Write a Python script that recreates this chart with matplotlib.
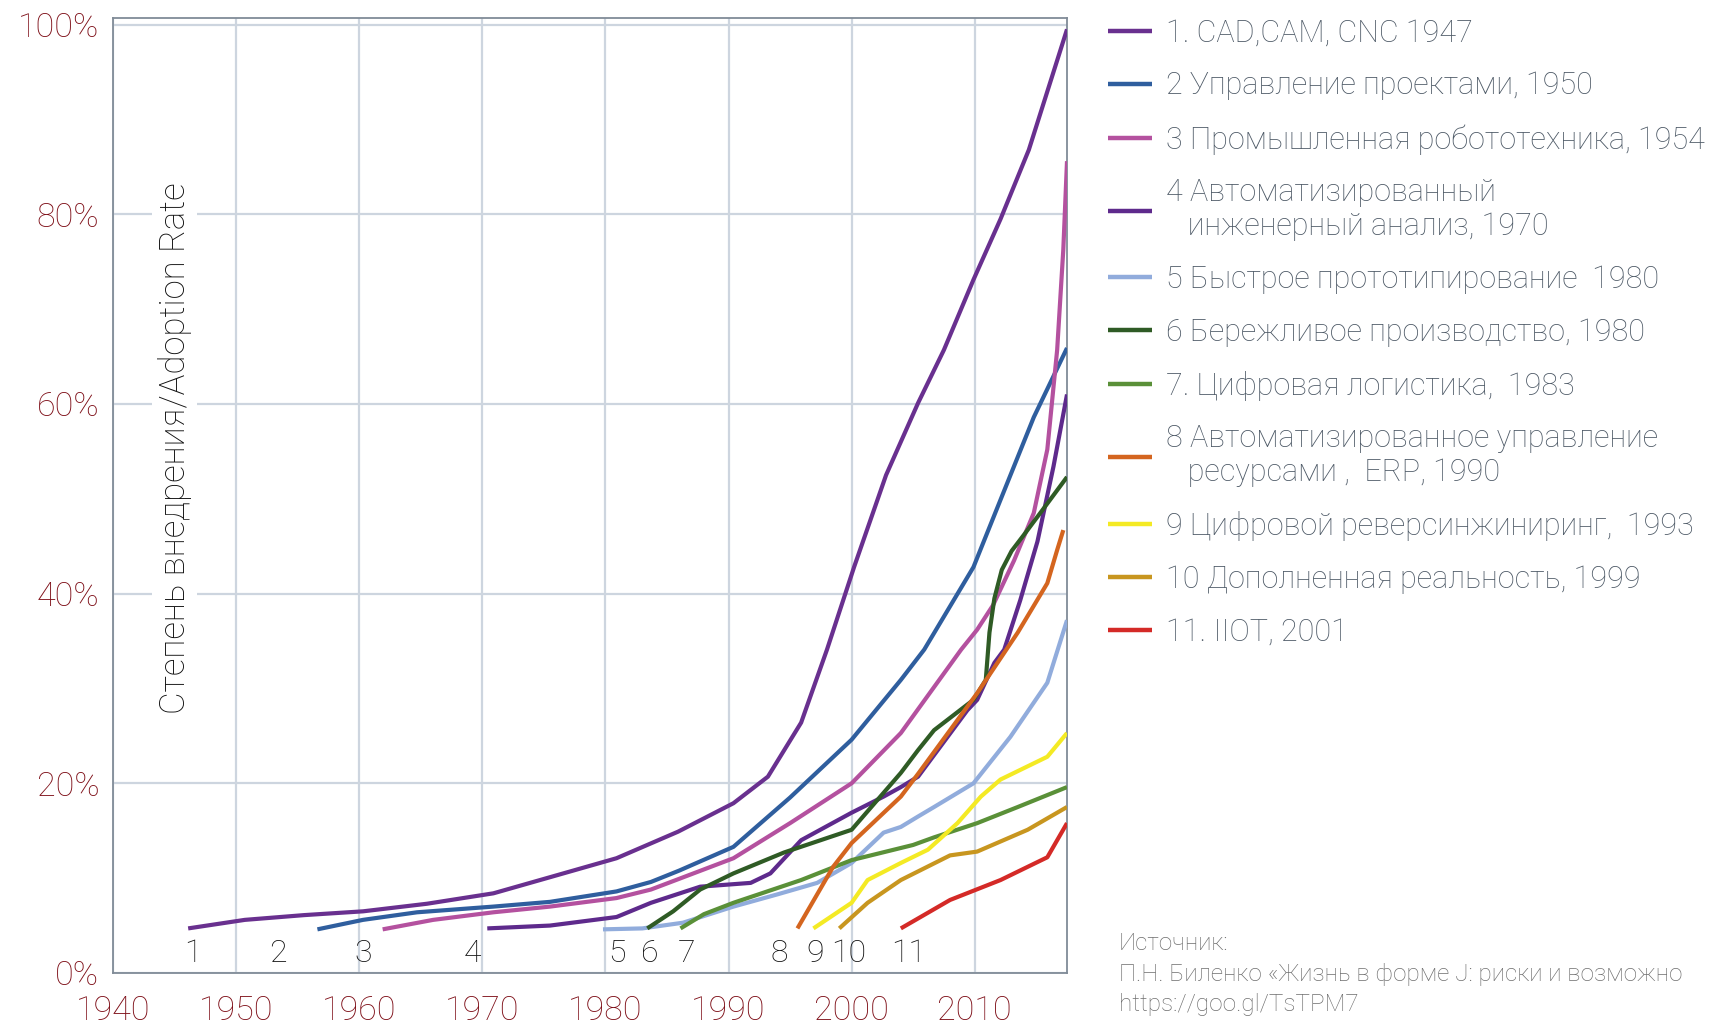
import matplotlib.pyplot as plt

# Годы и степень внедрения (%) для каждой технологии
x1 = [1946.1, 1950.7, 1955.5, 1960.3, 1965.5, 1970.9, 1975.5, 1980.9, 1985.9, 1990.4, 1993.2,
      1995.9, 1998.0, 2000.2, 2002.8, 2005.4, 2007.5, 2009.9, 2012.1, 2014.4, 2017.5]
y1 = [4.7, 5.6, 6.1, 6.5, 7.3, 8.4, 10.1, 12.1, 14.9, 17.9, 20.7,
      26.4, 34.1, 42.8, 52.5, 60.1, 65.7, 73.1, 79.5, 86.8, 99.5]

x2 = [1956.6, 1960.3, 1964.7, 1970.9, 1975.5, 1980.9, 1983.7, 1986.0, 1990.4, 1995.0, 2000.0,
      2004.0, 2005.9, 2009.9, 2012.1, 2014.8, 2017.5]
y2 = [4.6, 5.6, 6.4, 7.0, 7.5, 8.6, 9.6, 10.8, 13.3, 18.5, 24.6,
      30.9, 34.1, 42.8, 49.9, 58.6, 65.9]

x3 = [1961.9, 1966.0, 1970.9, 1975.5, 1980.9, 1983.7, 1990.4, 1995.0, 2000.0, 2004.0, 2008.9,
      2010.2, 2011.5, 2013.2, 2014.8, 2015.9, 2016.7, 2017.2, 2017.5]
y3 = [4.6, 5.6, 6.4, 7.0, 7.9, 8.8, 12.1, 15.8, 20.0, 25.3, 34.1,
      36.2, 38.8, 43.5, 48.5, 55.2, 65.7, 76.3, 85.6]

x4 = [1970.4, 1975.5, 1980.9, 1983.7, 1987.7, 1991.8, 1993.4, 1995.9, 2000.0, 2002.6, 2004.0,
      2005.4, 2009.4, 2010.2, 2011.6, 2012.4, 2013.7, 2015.1, 2016.4, 2017.5]
y4 = [4.7, 5.0, 5.9, 7.4, 9.1, 9.5, 10.5, 14.0, 16.9, 18.6, 19.6,
      20.7, 27.7, 28.8, 32.7, 34.1, 39.3, 45.5, 53.4, 61.0]

x5 = [1979.8, 1983.0, 1986.3, 1990.4, 1994.0, 1997.2, 2000.0, 2002.6, 2004.0, 2005.4, 2006.7,
      2009.9, 2012.9, 2015.9, 2017.5]
y5 = [4.6, 4.7, 5.3, 7.0, 8.3, 9.5, 11.6, 14.8, 15.4, 16.5, 17.5,
      20.0, 24.9, 30.6, 37.2]

x6 = [1983.4, 1985.5, 1987.7, 1990.4, 1994.5, 2000.0, 2002.6, 2004.0, 2005.4, 2006.7, 2009.9,
      2010.9, 2011.2, 2011.6, 2012.2, 2013.0, 2014.0, 2015.5, 2017.5]
y6 = [4.7, 6.5, 8.8, 10.5, 12.7, 15.1, 19.0, 21.1, 23.5, 25.6, 28.8,
      30.9, 35.9, 39.5, 42.5, 44.5, 46.2, 48.8, 52.3]

x7 = [1986.1, 1988.0, 1990.4, 1995.9, 2000.0, 2005.0, 2006.7, 2010.2, 2013.5, 2017.5]
y7 = [4.7, 6.2, 7.4, 9.8, 11.9, 13.5, 14.3, 15.8, 17.5, 19.6]

x8 = [1995.6, 1998.5, 2000.0, 2004.0, 2005.4, 2010.2, 2013.5, 2015.9, 2016.7, 2017.2]
y8 = [4.7, 11.2, 13.7, 18.6, 21.0, 29.5, 35.9, 41.1, 44.6, 46.7]

x9 = [1996.9, 2000.0, 2001.3, 2004.0, 2006.2, 2008.6, 2010.5, 2012.1, 2015.9, 2017.5]
y9 = [4.7, 7.4, 9.8, 11.6, 13.0, 15.8, 18.6, 20.4, 22.8, 25.3]

x10 = [1999.0, 2001.3, 2004.0, 2008.0, 2010.2, 2014.3, 2017.5]
y10 = [4.7, 7.4, 9.8, 12.4, 12.8, 15.1, 17.5]

x11 = [2004.0, 2008.0, 2012.1, 2015.9, 2017.5]
y11 = [4.7, 7.7, 9.8, 12.2, 15.8]

xs = [x1, x2, x3, x4, x5, x6, x7, x8, x9, x10, x11]
ys = [y1, y2, y3, y4, y5, y6, y7, y8, y9, y10, y11]

labels = ['1. CAD,CAM, CNC 1947',
          '2 Управление проектами, 1950',
          '3 Промышленная робототехника, 1954',
          '4 Автоматизированный\n   инженерный анализ, 1970',
          '5 Быстрое прототипирование  1980',
          '6 Бережливое производство, 1980',
          '7. Цифровая логистика,  1983',
          '8 Автоматизированное управление\n   ресурсами ,  ERP, 1990',
          '9 Цифровой реверсинжиниринг,  1993',
          '10 Дополненная реальность, 1999',
          '11. IIOT, 2001']
colors = ['#69308f', '#2f5e9e', '#b4519f', '#5e2a8c', '#91acdc', '#2f5b25',
          '#5a9038', '#d4651f', '#f4ea24', '#c8961f', '#d42a27']

# номера технологий у оси X
num_text = ['1', '2', '3', '4', '5', '6', '7', '8', '9', '10', '11']
num_x = [1946.5, 1953.4, 1960.3, 1969.2, 1980.9, 1983.6, 1986.6, 1994.1, 1997.0, 1999.8, 2004.6]

years = [1940, 1950, 1960, 1970, 1980, 1990, 2000, 2010]
pcts = [0, 20, 40, 60, 80, 100]

plt.rcParams['font.family'] = ['Roboto', 'DejaVu Sans']
plt.rcParams['font.weight'] = 'light'

fig = plt.figure(figsize=(17.16, 10.27), dpi=100, facecolor='white')
ax = fig.add_axes([0.0659, 0.0526, 0.5559, 0.9299])

for x, y, c, lab in zip(xs, ys, colors, labels):
    ax.plot(x, y, color=c, lw=3, label=lab, solid_capstyle='butt',
            solid_joinstyle='round', zorder=3)

for t, x in zip(num_text, num_x):
    ax.text(x, 2.1, t, ha='center', va='center', fontsize=23, color='#111111', zorder=4)

ax.text(1945.0, 55.3, 'Степень внедрения/Adoption Rate', rotation=90, ha='center', va='center',
        fontsize=25, color='#111111', zorder=4,
        bbox=dict(facecolor='white', edgecolor='none', pad=4))

ax.set_xlim(1940, 2017.5)
ax.set_ylim(0, 100.7)
ax.set_xticks(years)
ax.set_xticklabels([str(v) for v in years])
ax.set_yticks(pcts)
ax.set_yticklabels([f'{v}%' for v in pcts])
ax.tick_params(axis='both', length=0, labelsize=24.5, labelcolor='#7e0f18')
ax.tick_params(axis='x', pad=16)
ax.tick_params(axis='y', pad=10)
ax.grid(True, color='#cdd5df', lw=1.6, zorder=1)
ax.set_axisbelow(True)
for s in ax.spines.values():
    s.set_color('#808b97')
    s.set_linewidth(1.3)

leg = ax.legend(loc='upper left', bbox_to_anchor=(1108 / 1716, 0.982),
                bbox_transform=fig.transFigure, frameon=False, fontsize=22,
                handlelength=1.43, handletextpad=0.46, labelspacing=0.78,
                borderpad=0, borderaxespad=0)
for t in leg.get_texts():
    t.set_color('#4d5966')
for h in leg.get_lines():
    h.set_linewidth(3.2)

fig.text(1119 / 1716, 1 - 943 / 1027, 'Источник:', fontsize=17.5, color='#6e6e6e', va='center')
fig.text(1119 / 1716, 1 - 974 / 1027, 'П.Н. Биленко «Жизнь в форме J: риски и возможно',
         fontsize=17.5, color='#6e6e6e', va='center')
fig.text(1119 / 1716, 1 - 1004 / 1027, 'https://goo.gl/TsTPM7', fontsize=17.5, color='#6e6e6e',
         va='center')

plt.savefig('out.png', dpi=100)
